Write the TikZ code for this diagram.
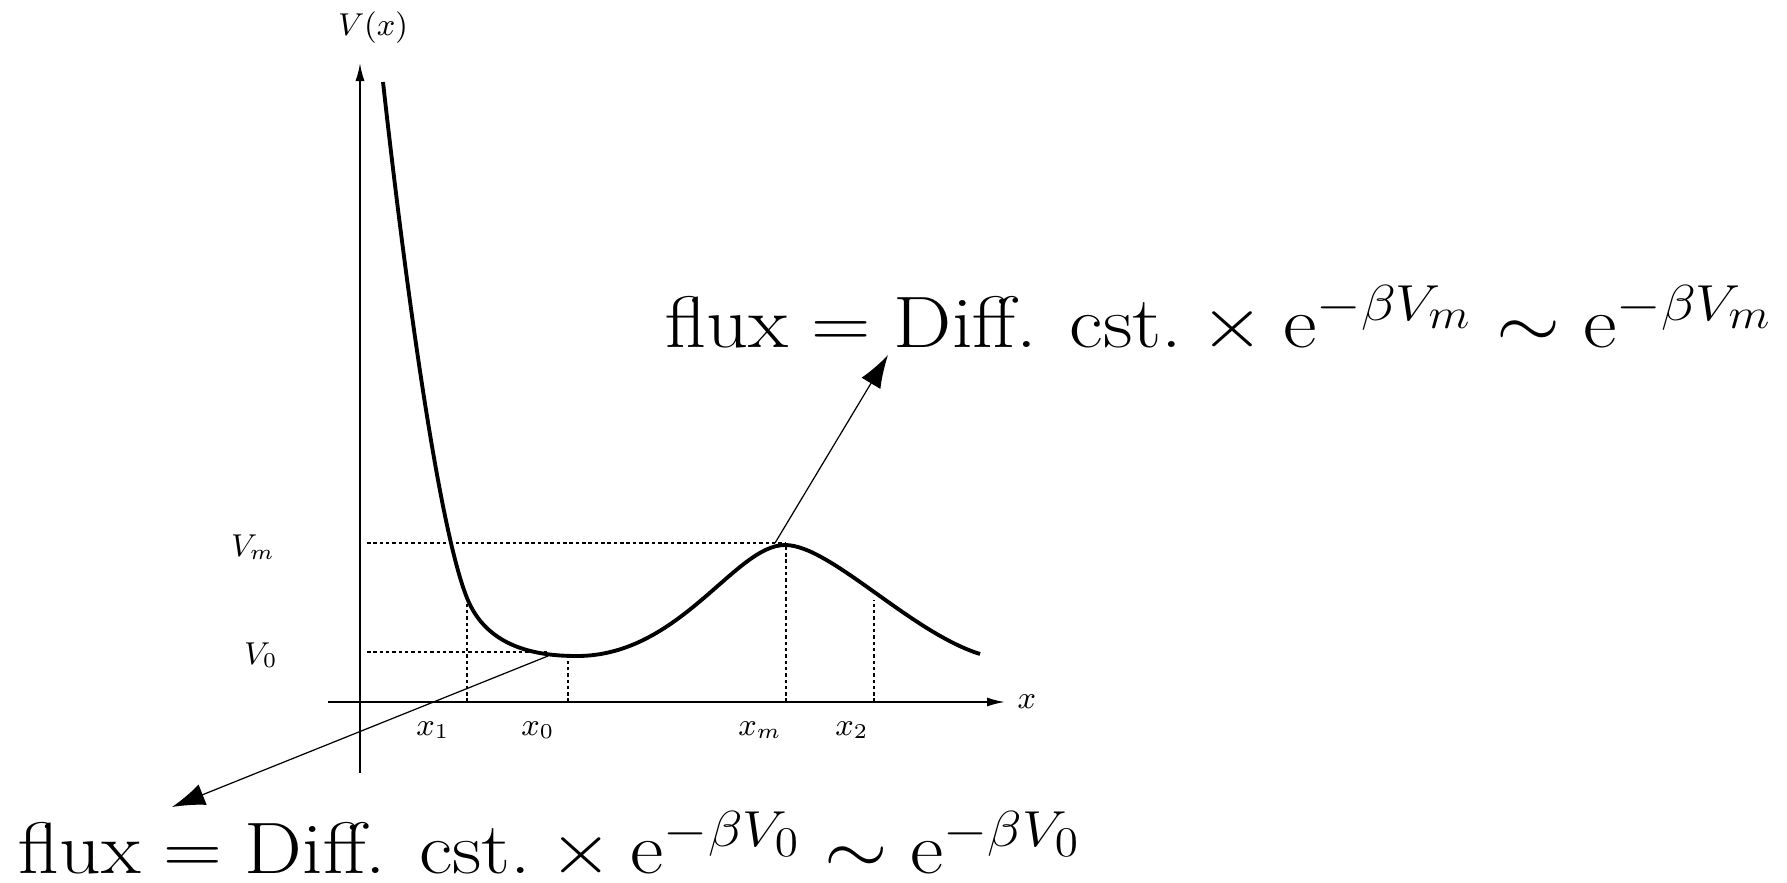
\documentclass[tikz,border=0pt]{standalone}
\usepackage{amsmath,amssymb}
\usepackage{tikz}
\usetikzlibrary{arrows.meta,positioning,calc}

\begin{document}
\begin{tikzpicture}[
  axis/.style={line width=0.5pt,-{Latex[length=1.8mm,width=0.9mm]}},
  guide/.style={line width=0.5pt,dash pattern=on 1pt off 0.8pt},
  fluxarrow/.style={line width=0.35pt,-{Latex[length=3.3mm,width=2.2mm]}},
  fluxtext/.style={font=\huge,anchor=base west,inner sep=0pt,transform shape},
  lbl/.style={font=\small,inner sep=0pt}]
\useasboundingbox (0,0) rectangle (17.87,8.82);
% axes
\coordinate (O) at (3.60,1.80);
\draw[axis] (3.60,1.09) -- (3.60,8.19) coordinate (ytip);
\draw[axis] (3.28,1.80) -- (10.05,1.80) coordinate (xtip);
\node[lbl] (ylab) at (3.73,8.54) {$V(x)$};
\node[lbl,right=1.2mm of xtip] (xlab) {$x$};
% guide lines
\draw[guide] (3.67,3.39) -- (7.86,3.39);
\draw[guide] (3.67,2.30) -- (5.47,2.30);
\draw[guide] (4.67,1.80) -- (4.67,2.84);
\draw[guide] (5.68,1.80) -- (5.68,2.25);
\draw[guide] (7.86,1.80) -- (7.86,3.37);
\draw[guide] (8.74,1.80) -- (8.74,2.82);
\node[lbl] (Vm) at (2.53,3.35) {$V_m$};
\node[lbl] (V0) at (2.61,2.27) {$V_0$};
\node[lbl] (x1) at (4.33,1.52) {$x_1$};
\node[lbl] (x0) at (5.38,1.52) {$x_0$};
\node[lbl] (xm) at (7.60,1.52) {$x_m$};
\node[lbl] (x2) at (8.52,1.52) {$x_2$};
% potential
\draw[line width=1.1pt] (3.83,8.00)
  .. controls (4.03,6.20) and (4.37,3.59) .. (4.67,2.84)
  .. controls (4.87,2.34) and (5.37,2.26) .. (5.77,2.26)
  .. controls (6.80,2.26) and (7.35,3.37) .. (7.85,3.37)
  .. controls (8.30,3.37) and (9.10,2.50) .. (9.80,2.28);
% fluxes
\node[fluxtext,xscale=1.13] (fluxm) at (6.65,5.35)
  {$\mbox{flux} = \mbox{Diff. cst.} \times \mbox{e}^{-\beta V_m} \sim \mbox{e}^{-\beta V_m}$};
\node[fluxtext,xscale=1.12] (flux0) at (0.18,0.09)
  {$\mbox{flux} = \mbox{Diff. cst.} \times \mbox{e}^{-\beta V_0} \sim \mbox{e}^{-\beta V_0}$};
\coordinate (tipm) at (8.88,5.27);
\coordinate (tip0) at (1.72,0.75);
\coordinate (startm) at (7.75,3.39);
\coordinate (start0) at (5.48,2.26);
\draw[fluxarrow] (startm) -- (tipm);
\draw[fluxarrow] (start0) -- (tip0);
\end{tikzpicture}
\end{document}
